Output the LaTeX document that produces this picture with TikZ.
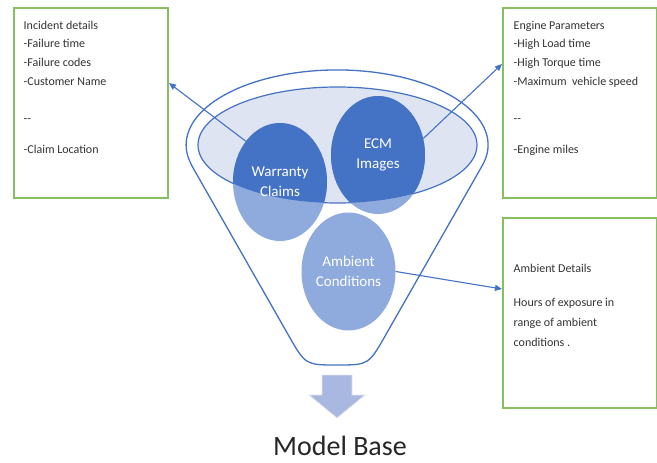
\documentclass[tikz,border=0pt]{standalone}
\usepackage{fontspec}
\setmainfont{Carlito}
\usetikzlibrary{arrows.meta,shapes.geometric,calc}

\definecolor{fblue}{HTML}{4472C4}
\definecolor{flight}{HTML}{8FAADC}
\definecolor{rimfill}{HTML}{DEE4F2}
\definecolor{boxgreen}{HTML}{86BF62}
\definecolor{txt}{HTML}{333333}
\definecolor{arrowfill}{HTML}{A9B8E0}
\definecolor{arrowedge}{HTML}{E2E5EC}

\begin{document}
\begin{tikzpicture}[x=1pt,y=-1pt,
  infobox/.style={draw=boxgreen,line width=2pt,fill=white,minimum width=154pt,
    minimum height=190pt,anchor=north west,inner sep=0},
  boxline/.style={font=\fontsize{12}{14}\selectfont,text=txt,anchor=base west,inner sep=0},
  bubble/.style={ellipse,minimum width=94pt,minimum height=118pt,inner sep=0,
    align=center,text=white,font=\fontsize{15}{20}\selectfont},
  link/.style={draw=fblue,line width=1.1pt,-{Triangle[length=7pt,width=6pt]}},
  funnelline/.style={draw=fblue,line width=1.3pt},
  ]
\useasboundingbox (0,0) rectangle (657,463);

% information boxes
\node[infobox] (lbox) at (13,7) {};
\node[infobox] (rtop) at (502,7) {};
\node[infobox] (rbot) at (502,217) {};

% left box text
\node[boxline] (l1) at (23.5,29) {Incident details};
\node[boxline] (l2) at (23.5,47.5) {-Failure time};
\node[boxline] (l3) at (23.5,66.5) {-Failure codes};
\node[boxline] (l4) at (23.5,85.5) {-Customer Name};
\node[boxline] (l5) at (23.5,122) {{-}{-}};
\node[boxline] (l6) at (23.5,153.5) {-Claim Location};

% upper right box text
\node[boxline] (r1) at (513.5,29) {Engine Parameters};
\node[boxline] (r2) at (513.5,47.5) {-High Load time};
\node[boxline] (r3) at (513.5,66.5) {-High Torque time};
\node[boxline] (r4) at (513.5,85.5) {-Maximum~ vehicle speed};
\node[boxline] (r5) at (513.5,122) {{-}{-}};
\node[boxline] (r6) at (513.5,153.5) {-Engine miles};

% lower right box text
\node[boxline] (a1) at (513.5,272.5) {Ambient Details};
\node[boxline] (a2) at (513.5,306.5) {Hours of exposure in};
\node[boxline] (a3) at (513.5,326.5) {range of ambient};
\node[boxline] (a4) at (513.5,346.5) {conditions .};

% funnel body: straight sides, round bottom, elliptic rim on top
\path[funnelline,fill=white]
  (191.7,165.5) -- (288.1,334.6) .. controls (305.4,365) .. (337,365)
  .. controls (368.6,365) .. (385.9,334.6)
  -- (482.3,165.5)
  arc[start angle=15.9,end angle=-195.9,x radius=151,y radius=75] -- cycle;

% inner rim of the funnel
\draw[funnelline,line width=1.2pt,fill=rimfill] (337.5,145) ellipse [x radius=139.5,y radius=58];

% discs: light everywhere, dark inside the rim
\fill[flight] (280,182) ellipse [x radius=47,y radius=59];
\fill[flight] (378,155) ellipse [x radius=47,y radius=59];
\fill[flight] (348.5,271.5) ellipse [x radius=47,y radius=59];
\begin{scope}
  \clip (337.5,145) ellipse [x radius=139.5,y radius=58];
  \fill[fblue] (280,182) ellipse [x radius=47,y radius=59];
  \fill[fblue] (378,155) ellipse [x radius=47,y radius=59];
\end{scope}

\node[bubble] (wc) at (280,182) {Warranty\\Claims};
\node[bubble] (ecm) at (378,155) {ECM\\Images};
\node[bubble] (amb) at (348.5,271.5) {Ambient\\Conditions};

% connectors to the boxes
\draw[link] (wc.130) -- ([yshift=20pt]lbox.east);
\draw[link] (ecm.20) -- ([yshift=39pt]rtop.west);
\draw[link] (amb.east) -- ([yshift=24pt]rbot.west);

% output arrow and caption
\draw[draw=arrowedge,fill=arrowfill,line width=0.8pt]
  (322,375) -- (352,375) -- (352,395) -- (365,395) -- (337,418) -- (309,395) -- (322,395) -- cycle;
\node[font=\fontsize{28}{34}\selectfont,text=black!85,anchor=base,inner sep=0] (mb) at (340,455) {Model Base};
\end{tikzpicture}
\end{document}
